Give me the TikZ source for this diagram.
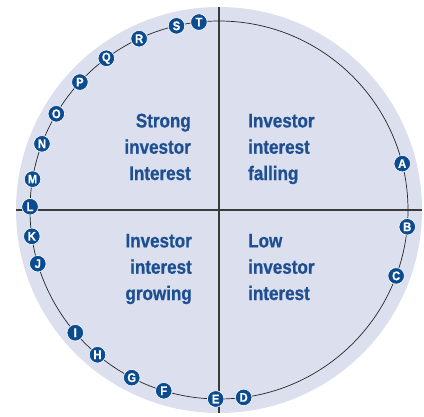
\documentclass[tikz,border=0pt]{standalone}
\usepackage{fontspec}
\setmainfont{Liberation Sans}
\newfontfamily\labelfont[FakeStretch=0.87,FakeBold=0.8]{Liberation Sans}
\newfontfamily\badgefont[FakeStretch=0.9,FakeBold=0.5]{Liberation Sans}
\definecolor{discfill}{HTML}{DCDFEE}
\definecolor{badgeblue}{HTML}{0B4B8F}
\definecolor{labelblue}{HTML}{1D4F91}
\definecolor{axisgray}{HTML}{3A3A3A}
\begin{document}
\begin{tikzpicture}[x=1pt,y=1pt,
  badge/.style={circle,fill=badgeblue,draw=white,line width=0.6pt,minimum size=16.5pt,inner sep=0pt,
    text=white,font=\badgefont\bfseries\fontsize{12.5}{12.5}\selectfont},
  quadlabel/.style={inner sep=0pt,text=labelblue,font=\labelfont\bfseries\fontsize{19.6}{26.3}\selectfont}]
\useasboundingbox (-219,-206) rectangle (205,210);
% background disc and cycle path
\fill[discfill] (0,0) circle (203);
\coordinate (ctr) at (0,0);
\coordinate (top) at (0,203);
\coordinate (bot) at (0,-203);
\coordinate (lft) at (-203,0);
\coordinate (rgt) at (203,0);
\draw[axisgray,line width=1.1pt] (top) -- (bot);
\draw[axisgray,line width=1.1pt] (lft) -- (rgt);
\draw[black!85,line width=0.7pt] (ctr) circle (189);
% quadrant labels (anchored on the baseline of the last line)
\node[quadlabel,align=right,anchor=base east] (ul) at (-28,30) {Strong\\investor\\Interest};
\node[quadlabel,align=left,anchor=base west] (ur) at (29,30) {Investor\\interest\\falling};
\node[quadlabel,align=right,anchor=base east] (ll) at (-27,-90) {Investor\\interest\\growing};
\node[quadlabel,align=left,anchor=base west] (lr) at (29,-90) {Low\\investor\\interest};
% stage markers along the cycle
\foreach \ang/\lbl in {14.2/A,-5.1/B,-20.4/C,277.5/D,269/E,253/F,242.5/G,230/H,220.5/I,196.5/J,
  188/K,179/L,170.6/M,159.5/N,149.4/O,137.4/P,126.6/Q,115/R,103/S,96.1/T}
  \node[badge] (m\lbl) at (\ang:189) {\lbl};
\end{tikzpicture}
\end{document}
